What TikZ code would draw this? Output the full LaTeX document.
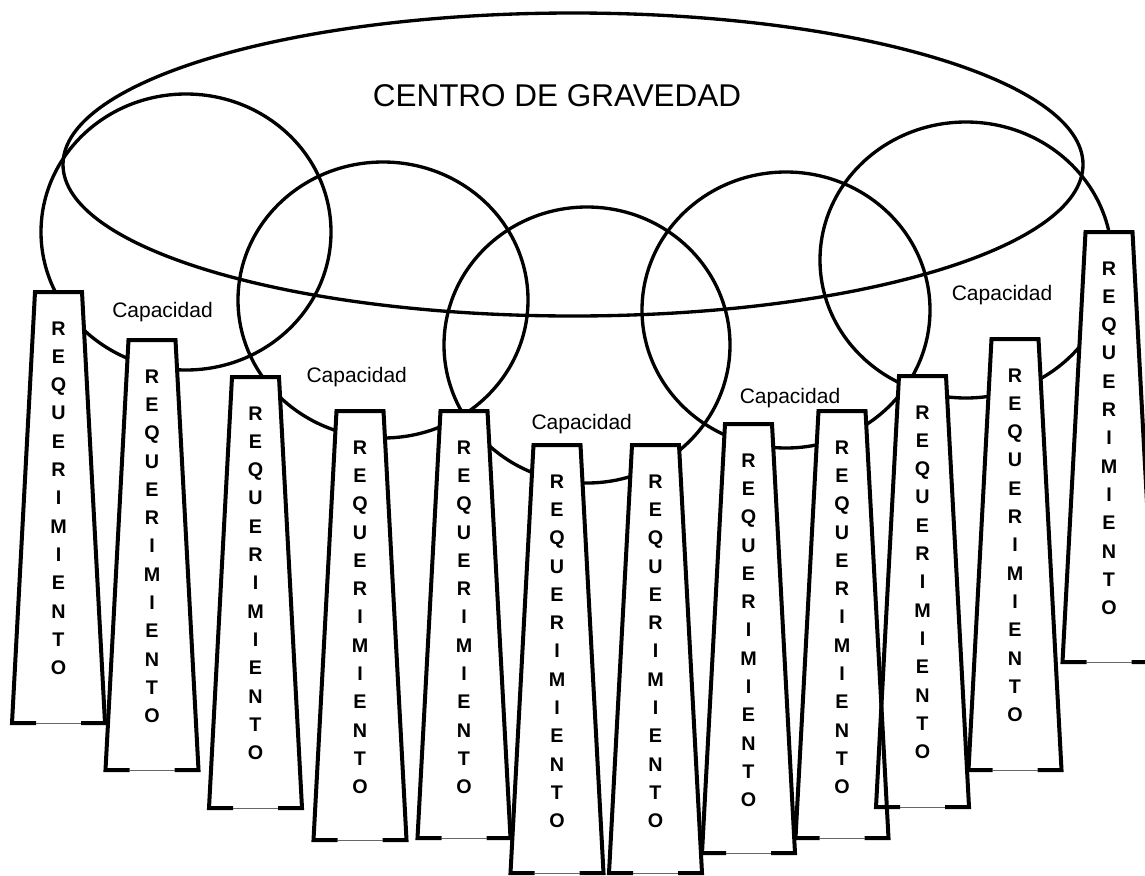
\documentclass[tikz,border=0pt]{standalone}
\usepackage{fontspec}
\setmainfont{Liberation Sans}
\begin{document}
\begin{tikzpicture}[x=0.75pt,y=-0.75pt]
\tikzset{
  ringline/.style={line width=2.5pt},
  boxline/.style={line width=3pt, line join=miter},
  thinbase/.style={line width=0.7pt, draw=black!60},
  lett/.style={font=\bfseries\fontsize{14.8}{15}\selectfont, inner sep=0pt, anchor=base},
  caplabel/.style={font=\fontsize{15.75}{16}\selectfont, inner sep=0pt, anchor=base},
  titlelabel/.style={font=\fontsize{23.6}{24}\selectfont, inner sep=0pt, anchor=base},
}
\useasboundingbox (0,0) rectangle (1145,875);
\clip (0,0) rectangle (1145,875);
\fill[white] (0,0) rectangle (1145,875);
% big ellipse and loops
\draw[ringline] (573,164.5) ellipse [x radius=510, y radius=151.5];
\draw[ringline] (186,232) ellipse [x radius=145, y radius=138];
\draw[ringline] (383,300) ellipse [x radius=145, y radius=138];
\draw[ringline] (587,345) ellipse [x radius=143, y radius=138];
\draw[ringline] (786,310) ellipse [x radius=144, y radius=138];
\draw[ringline] (966,260) ellipse [x radius=146, y radius=138];
% box fills
\foreach \xt/\yt/\h in {58.5/292/431, 152/340/430, 255.5/377/431, 360/411/429,
  464/411/427, 557/445/428, 655.5/445/428, 748.5/424/429, 842/411/427,
  922.5/376/431, 1015/339/431, 1109/232/430}{
  \fill[white] (\xt-23.5,\yt) -- (\xt+23.5,\yt) -- (\xt+46.5,\yt+\h) -- (\xt-46.5,\yt+\h) -- cycle;
}
% box outlines and letters
\foreach \xt/\yt/\h [count=\i] in {58.5/292/431, 152/340/430, 255.5/377/431, 360/411/429,
  464/411/427, 557/445/428, 655.5/445/428, 748.5/424/429, 842/411/427,
  922.5/376/431, 1015/339/431, 1109/232/430}{
  \draw[boxline] (\xt-22.5,\yt+\h) -- (\xt-46.5,\yt+\h) -- (\xt-23.5,\yt) -- (\xt+23.5,\yt) -- (\xt+46.5,\yt+\h) -- (\xt+22.5,\yt+\h);
  \draw[thinbase] (\xt-22.5,\yt+\h) -- (\xt+22.5,\yt+\h);
  \foreach \c [count=\k from 0] in {R,E,Q,U,E,R,I,M,I,E,N,T,O}{
    \node[lett] (r\i-\k) at (\xt,\yt+43+\k*28.33) {\c};
  }
}
% labels
\node[titlelabel] (cg) at (557,106.3) {CENTRO DE GRAVEDAD};
\node[caplabel] (c1) at (162.5,317) {Capacidad};
\node[caplabel] (c2) at (356.7,382.5) {Capacidad};
\node[caplabel] (c3) at (581.7,429.5) {Capacidad};
\node[caplabel] (c4) at (790,403.5) {Capacidad};
\node[caplabel] (c5) at (1002,300.5) {Capacidad};
\end{tikzpicture}
\end{document}
